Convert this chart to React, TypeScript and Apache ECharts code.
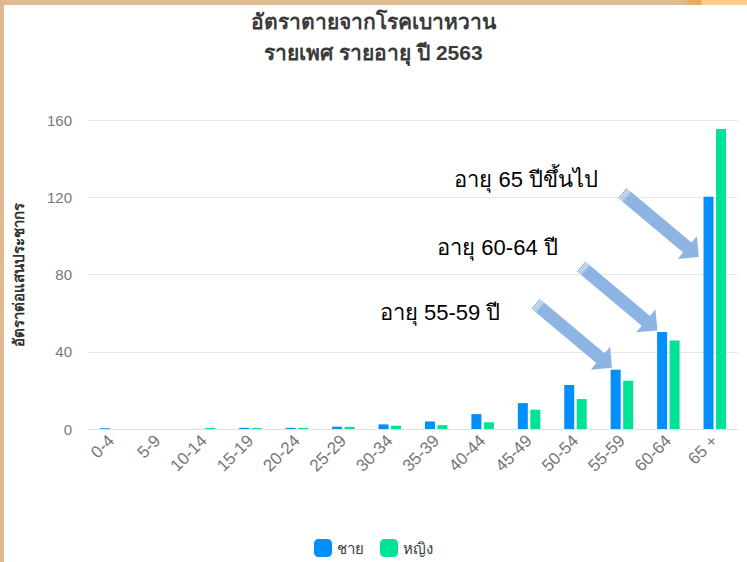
import React, { useEffect, useRef } from "react";
import * as echarts from "echarts";

const titleLines = ["อัตราตายจากโรคเบาหวาน", "รายเพศ รายอายุ ปี 2563"];
const yAxisName = "อัตราต่อแสนประชากร";
const categories = ["0-4", "5-9", "10-14", "15-19", "20-24", "25-29", "30-34", "35-39", "40-44", "45-49", "50-54", "55-59", "60-64", "65 +"];
const seriesNames = ["ชาย", "หญิง"];
const male = [0.4, 0, 0, 0.6, 0.6, 1.2, 2.4, 3.9, 7.7, 13.4, 22.8, 30.7, 50.2, 120.3];
const female = [0, 0, 0.6, 0.5, 0.6, 1.1, 1.7, 2.0, 3.5, 10.0, 15.5, 25.0, 45.8, 155.3];

// annotations: category + value pointed at by each arrow
const noteTexts = ["อายุ 55-59 ปี", "อายุ 60-64 ปี", "อายุ 65 ปีขึ้นไป"];
const noteCats = ["55-59", "60-64", "65 +"];
const noteValues = [31.7, 51, 89];

// layout-only offsets for annotations
const noteTipDx = [-10, -11, -16];
const noteTextOffset = [
  [-35, 9],
  [-23, -19],
  [-24, -13],
];

const COLORS = ["#008FFB", "#00E396"];
const ARROW_COLOR = "#8EB4E3";

function arrowElements(tipX: number, tipY: number, angleDeg: number, L: number) {
  const a = (angleDeg * Math.PI) / 180;
  const ux = Math.cos(a), uy = Math.sin(a);
  const px = -uy, py = ux;
  const P = (s: number, t: number) => [tipX - ux * s + px * t, tipY - uy * s + py * t];
  const w = 6.5;
  const hl = 15, hw = 15;
  const els: any[] = [];
  els.push({
    type: "polygon",
    silent: true,
    shape: { points: [P(0, 0), P(hl, hw), P(hl, w), P(L - 6, w), P(L - 6, -w), P(hl, -w), P(hl, -hw)] },
    style: { fill: ARROW_COLOR },
  });
  for (const s of [L - 5, L - 3, L - 1]) {
    els.push({
      type: "polygon",
      silent: true,
      shape: { points: [P(s - 0.6, w), P(s + 0.6, w), P(s + 0.6, -w), P(s - 0.6, -w)] },
      style: { fill: ARROW_COLOR },
    });
  }
  return { els, tail: P(L, 0) };
}

export default function App() {
  const ref = useRef<HTMLDivElement>(null);
  useEffect(() => {
    if (!ref.current) return;
    const chart = echarts.init(ref.current, null, { renderer: "svg" });
    const font = "'Liberation Sans', Arial, 'Noto Sans', sans-serif";
    chart.setOption({
      animation: false,
      textStyle: { fontFamily: font },
      title: {
        text: titleLines.join("\n"),
        left: "center",
        top: 1,
        textStyle: { fontSize: 21, fontWeight: "bold", color: "#3a3a3a", lineHeight: 31, fontFamily: font },
      },
      legend: {
        bottom: 0,
        left: "center",
        itemWidth: 18,
        itemHeight: 18,
        itemGap: 16,
        icon: "roundRect",
        textStyle: { fontSize: 15, color: "#373d3f" },
        data: seriesNames,
      },
      grid: { left: 88, right: 9, top: 120, bottom: 133 },
      xAxis: {
        type: "category",
        data: categories,
        axisLine: { lineStyle: { color: "#e0e0e0" } },
        axisTick: { lineStyle: { color: "#e0e0e0" }, length: 6 },
        axisLabel: { rotate: 45, fontSize: 17, color: "#777", margin: 9 },
      },
      yAxis: {
        type: "value",
        min: 0,
        max: 160,
        interval: 40,
        name: yAxisName,
        nameLocation: "middle",
        nameGap: 62,
        nameTextStyle: { fontSize: 15, fontWeight: "bold", color: "#333" },
        axisLabel: { fontSize: 15, color: "#777", margin: 16 },
        splitLine: { lineStyle: { color: "#e6e6e6" } },
        axisLine: { show: false },
        axisTick: { show: false },
      },
      series: [
        { name: seriesNames[0], type: "bar", data: male, barWidth: 10, barGap: "25%", itemStyle: { color: COLORS[0] } },
        { name: seriesNames[1], type: "bar", data: female, barWidth: 10, itemStyle: { color: COLORS[1] } },
      ],
    });

    const graphics: any[] = [];
    noteCats.forEach((cat, i) => {
      const idx = categories.indexOf(cat);
      const pt = chart.convertToPixel({ gridIndex: 0 }, [idx, noteValues[i]]) as number[];
      const { els, tail } = arrowElements(pt[0] + noteTipDx[i], pt[1], 40, 100);
      graphics.push(...els);
      graphics.push({
        type: "text",
        silent: true,
        x: tail[0] + noteTextOffset[i][0],
        y: tail[1] + noteTextOffset[i][1],
        style: {
          text: noteTexts[i],
          fontSize: 22,
          fill: "#000",
          align: "right",
          verticalAlign: "middle",
          fontFamily: font,
        },
      });
    });
    chart.setOption({ graphic: graphics });
    return () => chart.dispose();
  }, []);

  return (
    <div style={{ position: "fixed", left: 0, top: 0, width: 747, height: 562, background: "#fff" }}>
      <div ref={ref} style={{ position: "absolute", left: 0, top: 0, width: 747, height: 562 }} />
      <div
        style={{
          position: "absolute",
          left: 0,
          top: 0,
          width: 747,
          height: 5,
          pointerEvents: "none",
          background: "linear-gradient(to right, #DFBA90 0px, #DFBA90 680px, #EBA752 701px, #FFCD93 702px, #FFCD93 747px)",
        }}
      />
      <div style={{ position: "absolute", left: 0, top: 0, width: 4, height: 562, background: "#DFBA90", pointerEvents: "none" }} />
    </div>
  );
}
